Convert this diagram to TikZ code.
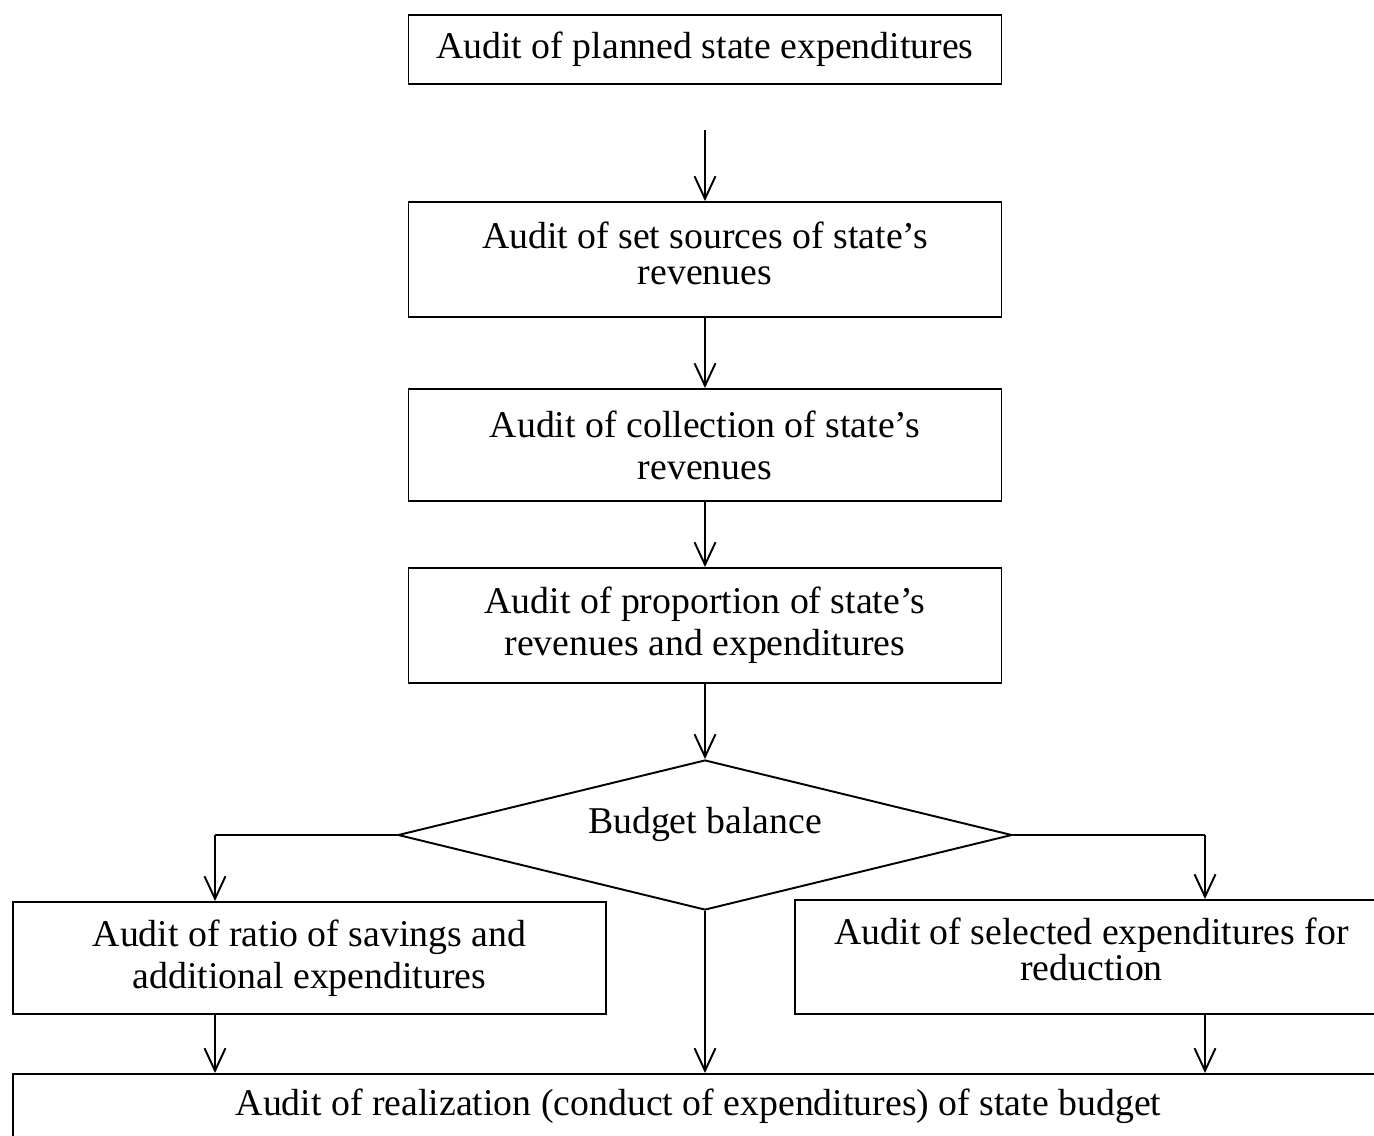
\documentclass[tikz,border=0pt]{standalone}
\usepackage{fontspec}
\setmainfont{Liberation Serif}
\usetikzlibrary{shapes.geometric,arrows.meta}
\tikzset{
	blk/.style={draw, line width=1.1pt, minimum width=11.86cm, align=center, inner sep=2pt},
	dec/.style={draw, diamond, line width=1.1pt, minimum width=12.28cm, minimum height=3cm, inner sep=0pt, aspect=4.1},
	arr/.style={line width=1.1pt, -{Straight Barb[length=0.45cm, width=0.42cm, line width=1.1pt]}},
	lnk/.style={line width=1.1pt}
}
\begin{document}
\begin{tikzpicture}[font=\fontsize{21.5}{22}\selectfont, line join=miter, >=stealth]
			\useasboundingbox (0,0) rectangle (27.48,-22.72);
			\clip (0,0) rectangle (27.48,-22.72);
			\node[blk, minimum height=1.38cm] (plan) at (14.1,-0.99) {Audit of planned state expenditures};
			\node[blk, minimum height=2.3cm, font=\fontsize{21.5}{20.5}\selectfont, text depth=0.25cm] (src) at (14.1,-5.19) {Audit of set sources of state's\\revenues};
			\node[blk, minimum height=2.24cm, font=\fontsize{21.5}{24}\selectfont] (coll) at (14.1,-8.90) {Audit of collection of state's\\revenues};
			\node[blk, minimum height=2.3cm, font=\fontsize{21.5}{24}\selectfont] (prop) at (14.1,-12.51) {Audit of proportion of state's\\revenues and expenditures};
			\node[dec, text depth=0.6cm] (bal) at (14.1,-16.7) {Budget balance};
			\node[blk, minimum height=2.24cm, font=\fontsize{21.5}{24}\selectfont] (ratio) at (6.19,-19.16) {Audit of ratio of savings and\\additional expenditures};
			\node[blk, minimum height=2.28cm, font=\fontsize{21.5}{20.5}\selectfont, text depth=0.3cm] (sel) at (21.83,-19.14) {Audit of selected expenditures for\\reduction};
			\node[draw, line width=1.1pt, anchor=north, minimum width=27.42cm, text height=0.5cm, text depth=1cm, inner ysep=0.33cm] (real) at (13.97,-21.46) {Audit of realization (conduct of expenditures) of state budget};
			% branch columns
			\coordinate (lx) at (4.3,0);
			\coordinate (rx) at (24.1,0);
			\coordinate (start) at (14.1,-2.6);
			\draw[arr] (start) -- (src.north -| start);
			\draw[arr] (src) -- (coll);
			\draw[arr] (coll) -- (prop);
			\draw[arr] (prop) -- (bal.north);
			\draw[lnk] (bal.west) -- (bal.west -| lx);
			\draw[arr] (bal.west -| lx) -- (ratio.north -| lx);
			\draw[lnk] (bal.east) -- (bal.east -| rx);
			\draw[arr] (bal.east -| rx) -- (sel.north -| rx);
			\draw[arr] (ratio.south -| lx) -- (real.north -| lx);
			\draw[arr] (bal.south) -- (real.north -| bal.south);
			\draw[arr] (sel.south -| rx) -- (real.north -| rx);
		\end{tikzpicture}
\end{document}
